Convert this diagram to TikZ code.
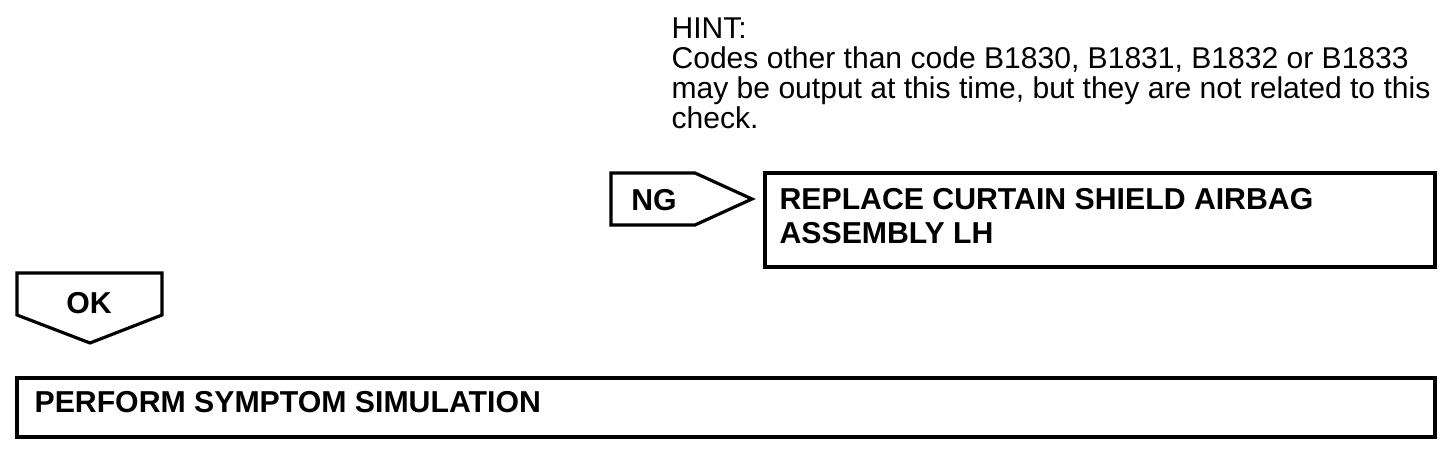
\documentclass[tikz,border=0pt]{standalone}
\usepackage{fontspec}
\setmainfont{Liberation Sans}
\begin{document}
\begin{tikzpicture}[x=0.01cm,y=-0.01cm,
	line width=0.9pt,
	hint/.style={font=\fontsize{8.55}{8.6}\selectfont,align=left,inner sep=0pt},
	boxtext/.style={font=\fontsize{8.6}{9.67}\selectfont\bfseries,align=left,inner sep=0pt},
	tagtext/.style={font=\fontsize{8.6}{9.67}\selectfont\bfseries,inner sep=0pt}]
	\useasboundingbox (0,0) rectangle (1456,458);
	% hint
	\node [hint,anchor=base west] (hint) at (670,129) {HINT:\\Codes other than code B1830, B1831, B1832 or B1833\\may be output at this time, but they are not related to this\\check.};
	% NG branch
	\draw (611,173) -- (695,173) -- (752,199) -- (695,225) -- (611,225) -- cycle;
	\node [tagtext] (ng) at (654,200) {NG};
	\draw (765,173) rectangle (1435,267);
	\node [boxtext,anchor=base west] (replace) at (778,244) {REPLACE CURTAIN SHIELD AIRBAG\\ASSEMBLY LH};
	% OK branch
	\draw (17,273) -- (162,273) -- (162,315) -- (90,343) -- (17,315) -- cycle;
	\node [tagtext] (ok) at (89,303) {OK};
	\draw (17,378) rectangle (1435,437);
	\node [boxtext,anchor=base west] (perform) at (33,413) {PERFORM SYMPTOM SIMULATION};
\end{tikzpicture}
\end{document}
